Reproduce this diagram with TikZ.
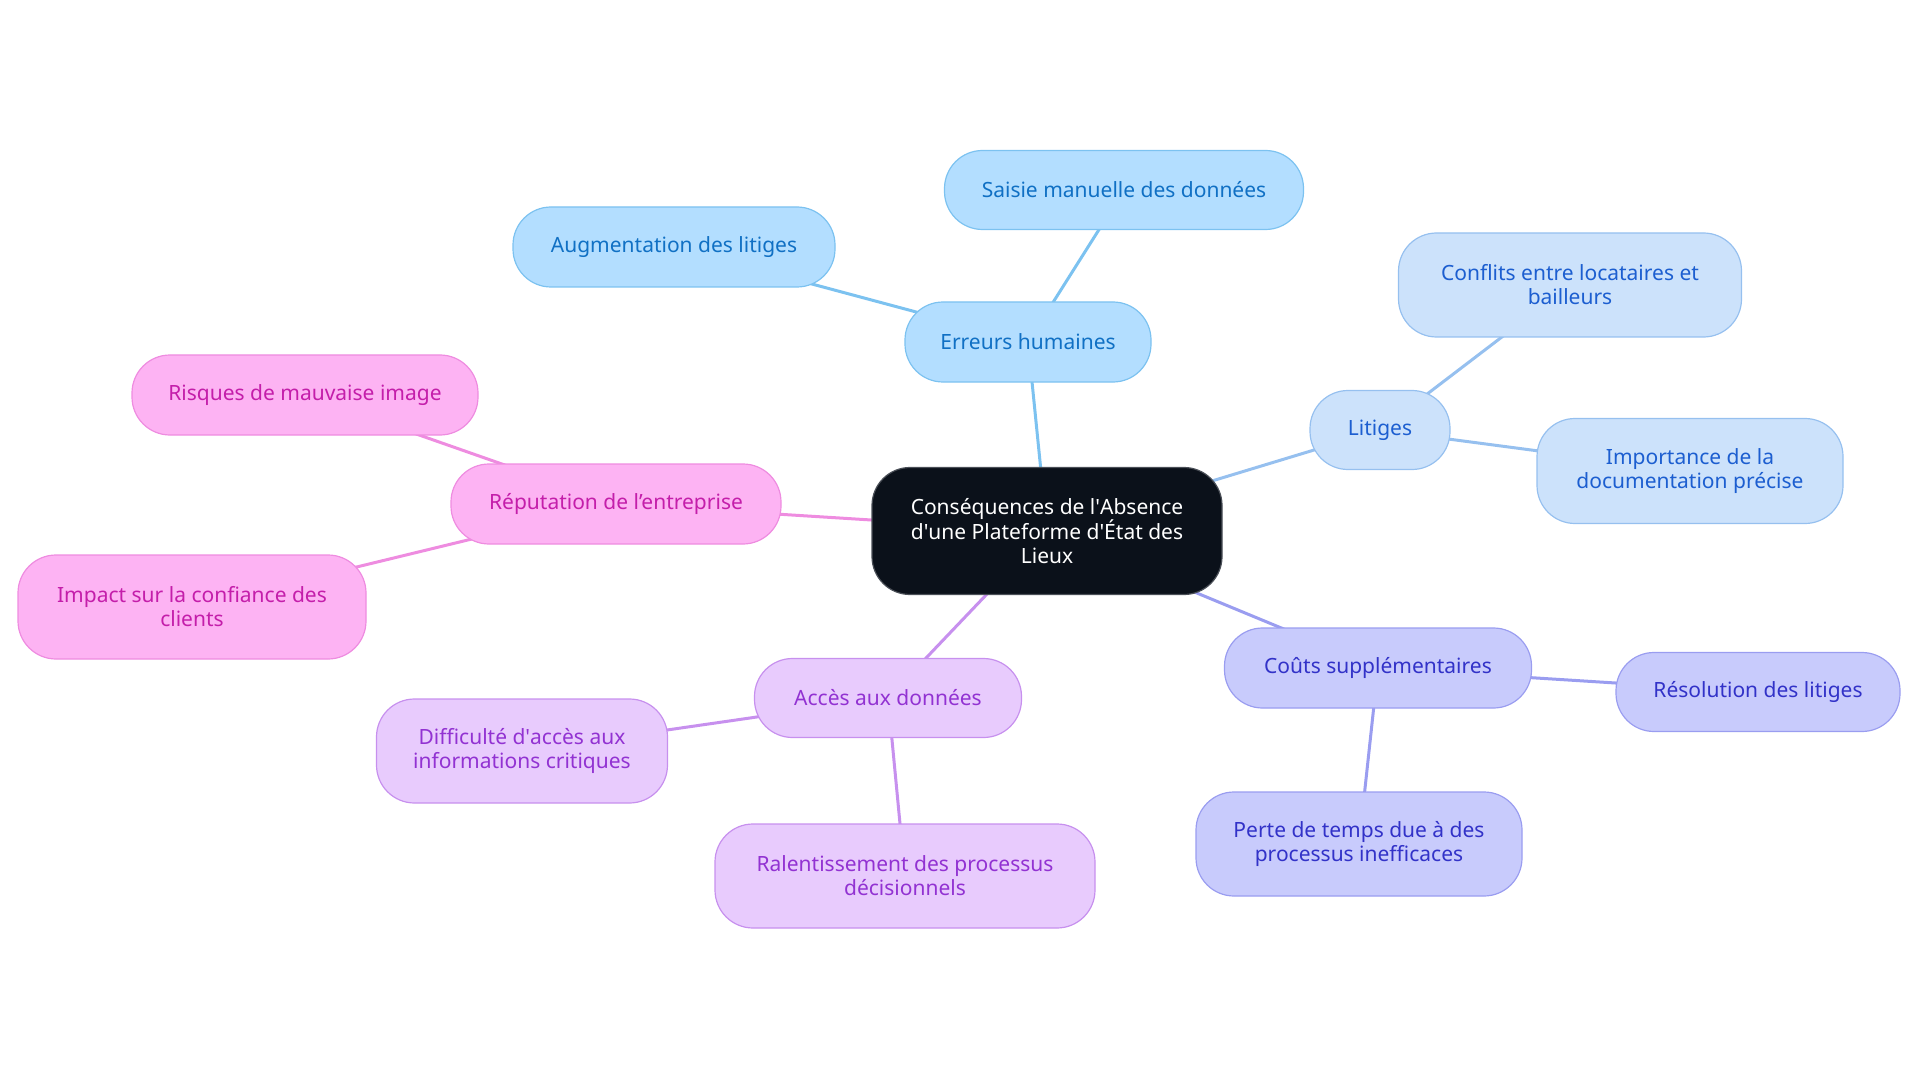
\documentclass[tikz,border=0pt]{standalone}
\usepackage{fontspec}
\setmainfont{Noto Sans}
\usetikzlibrary{backgrounds}

% colours of the five branches
\definecolor{rootfill}{HTML}{0B111A}
\definecolor{rootdraw}{HTML}{4A4F57}
\definecolor{errfill}{HTML}{B3DEFF}
\definecolor{errdraw}{HTML}{7CC2F0}
\definecolor{errtext}{HTML}{1070C4}
\definecolor{litfill}{HTML}{CCE2FB}
\definecolor{litdraw}{HTML}{96C0EF}
\definecolor{littext}{HTML}{1C5ED0}
\definecolor{coufill}{HTML}{C8CBFC}
\definecolor{coudraw}{HTML}{9A9DF0}
\definecolor{coutext}{HTML}{3232C8}
\definecolor{accfill}{HTML}{E8CBFD}
\definecolor{accdraw}{HTML}{C790EE}
\definecolor{acctext}{HTML}{9232D2}
\definecolor{repfill}{HTML}{FDB3F3}
\definecolor{repdraw}{HTML}{EE8CE0}
\definecolor{reptext}{HTML}{C41EAA}

% straight apostrophe, as printed in the diagram
\newcommand{\ap}{\textquotesingle}

\tikzset{
  bubble/.style={rounded corners=38pt, align=center, inner sep=0pt,
                 line width=1.2pt, font=\fontsize{21}{24}\selectfont},
  link/.style={line width=3pt},
}

\begin{document}
\begin{tikzpicture}[x=1pt, y=-1pt]
    % Fix the page to the size of the reference
    \useasboundingbox (0,0) rectangle (1920,1083);

    % The central topic
    \node[bubble, fill=rootfill, draw=rootdraw, text=white,
          minimum width=350pt, minimum height=127pt] (root) at (1047,531)
          {Conséquences de l\ap Absence\\d\ap une Plateforme d\ap État des\\Lieux};

    % Branch: Erreurs humaines
    \node[bubble, fill=errfill, draw=errdraw, text=errtext,
          minimum width=246pt, minimum height=80pt] (err) at (1028,342) {Erreurs humaines};
    \node[bubble, fill=errfill, draw=errdraw, text=errtext,
          minimum width=359pt, minimum height=79pt] (sai) at (1124,190) {Saisie manuelle des données};
    \node[bubble, fill=errfill, draw=errdraw, text=errtext,
          minimum width=322pt, minimum height=80pt] (aug) at (674,247) {Augmentation des litiges};

    % Branch: Litiges
    \node[bubble, fill=litfill, draw=litdraw, text=littext,
          minimum width=140pt, minimum height=79pt] (lit) at (1380,430) {Litiges};
    \node[bubble, fill=litfill, draw=litdraw, text=littext,
          minimum width=343pt, minimum height=104pt] (con) at (1570,285)
          {Conflits entre locataires et\\bailleurs};
    \node[bubble, fill=litfill, draw=litdraw, text=littext,
          minimum width=306pt, minimum height=105pt] (imp) at (1690,471)
          {Importance de la\\documentation précise};

    % Branch: Coûts supplémentaires
    \node[bubble, fill=coufill, draw=coudraw, text=coutext,
          minimum width=307pt, minimum height=80pt] (cou) at (1378,668) {Coûts supplémentaires};
    \node[bubble, fill=coufill, draw=coudraw, text=coutext,
          minimum width=284pt, minimum height=79pt] (res) at (1758,692) {Résolution des litiges};
    \node[bubble, fill=coufill, draw=coudraw, text=coutext,
          minimum width=326pt, minimum height=104pt] (per) at (1359,844)
          {Perte de temps due à des\\processus inefficaces};

    % Branch: Accès aux données
    \node[bubble, fill=accfill, draw=accdraw, text=acctext,
          minimum width=267pt, minimum height=79pt] (acc) at (888,698) {Accès aux données};
    \node[bubble, fill=accfill, draw=accdraw, text=acctext,
          minimum width=291pt, minimum height=104pt] (dif) at (522,751)
          {Difficulté d\ap accès aux\\informations critiques};
    \node[bubble, fill=accfill, draw=accdraw, text=acctext,
          minimum width=380pt, minimum height=104pt] (ral) at (905,876)
          {Ralentissement des processus\\décisionnels};

    % Branch: Réputation de l'entreprise
    \node[bubble, fill=repfill, draw=repdraw, text=reptext,
          minimum width=330pt, minimum height=80pt] (rep) at (616,504) {Réputation de l'entreprise};
    \node[bubble, fill=repfill, draw=repdraw, text=reptext,
          minimum width=346pt, minimum height=80pt] (ris) at (305,395) {Risques de mauvaise image};
    \node[bubble, fill=repfill, draw=repdraw, text=reptext,
          minimum width=348pt, minimum height=104pt] (ipc) at (192,607)
          {Impact sur la confiance des\\clients};

    % Connectors go behind the bubbles
    \begin{pgfonlayer}{background}
        \draw[link, errdraw] (root.center) -- (err.center);
        \draw[link, errdraw] (err.center) -- (sai.center);
        \draw[link, errdraw] (err.center) -- (aug.center);
        \draw[link, litdraw] (root.center) -- (lit.center);
        \draw[link, litdraw] (lit.center) -- (con.center);
        \draw[link, litdraw] (lit.center) -- (imp.center);
        \draw[link, coudraw] (root.center) -- (cou.center);
        \draw[link, coudraw] (cou.center) -- (res.center);
        \draw[link, coudraw] (cou.center) -- (per.center);
        \draw[link, accdraw] (root.center) -- (acc.center);
        \draw[link, accdraw] (acc.center) -- (dif.center);
        \draw[link, accdraw] (acc.center) -- (ral.center);
        \draw[link, repdraw] (root.center) -- (rep.center);
        \draw[link, repdraw] (rep.center) -- (ris.center);
        \draw[link, repdraw] (rep.center) -- (ipc.center);
    \end{pgfonlayer}
\end{tikzpicture}
\end{document}
